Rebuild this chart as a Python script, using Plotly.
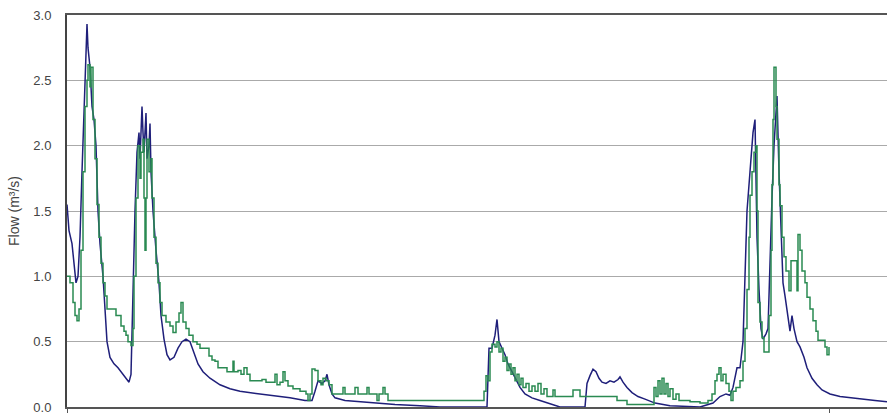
import plotly.graph_objects as go

# time index (hours from start of record) and flows (m3/s)
blue_t = [0, 2, 5, 7, 9, 11, 13, 15, 17, 19, 20, 21, 23, 25, 27, 29, 31, 33, 36, 38,
          40, 43, 47, 51, 55, 59, 62, 64, 65, 66, 68, 70, 72, 73, 75, 76, 77, 79, 80, 82,
          83, 84, 86, 89, 92, 94, 97, 100, 103, 107, 111, 115, 119, 123, 127, 131, 136, 143, 153, 163,
          173, 183, 193, 208, 223, 238, 245, 248, 251, 255, 258, 260, 262, 265, 268, 278, 293, 308, 328, 353,
          373, 420, 422, 425, 428, 430, 432, 435, 438, 441, 445, 449, 453, 458, 465, 473, 481, 493, 518, 520,
          523, 526, 529, 532, 535, 539, 543, 547, 551, 553, 556, 560, 565, 571, 578, 588, 603, 633, 646, 653,
          659, 663, 666, 670, 673, 676, 678, 680, 683, 685, 686, 688, 689, 690, 692, 694, 696, 699, 701, 703,
          705, 707, 709, 710, 712, 714, 716, 718, 720, 723, 725, 727, 730, 733, 737, 740, 745, 750, 755, 763,
          773, 783, 793, 808, 820]
blue_q = [1.55, 1.35, 1.25, 1.12, 0.95, 1.0, 1.3, 1.8, 2.2, 2.6, 2.93, 2.75, 2.6, 2.3, 2.2, 2.0, 1.5, 1.25, 1.0, 0.75,
          0.5, 0.38, 0.33, 0.3, 0.26, 0.22, 0.19, 0.25, 0.6, 1.0, 1.5, 1.95, 2.1, 1.9, 2.3, 2.1, 1.95, 2.25, 1.9, 2.0,
          2.17, 1.8, 1.5, 1.2, 0.95, 0.7, 0.52, 0.4, 0.36, 0.38, 0.45, 0.5, 0.52, 0.5, 0.42, 0.33, 0.27, 0.22, 0.17, 0.14,
          0.12, 0.11, 0.10, 0.09, 0.07, 0.05, 0.05, 0.12, 0.2, 0.18, 0.2, 0.25, 0.17, 0.1, 0.07, 0.05, 0.04, 0.03, 0.02, 0.01,
          0.0, 0.0, 0.45, 0.45, 0.55, 0.67, 0.5, 0.45, 0.4, 0.33, 0.27, 0.2, 0.15, 0.1, 0.07, 0.05, 0.03, 0.0, 0.0, 0.18,
          0.24, 0.29, 0.27, 0.22, 0.19, 0.18, 0.2, 0.19, 0.21, 0.23, 0.19, 0.15, 0.11, 0.08, 0.06, 0.03, 0.01, 0.0, 0.03, 0.08,
          0.1, 0.09, 0.15, 0.3, 0.3, 0.5, 1.0, 1.5, 1.8, 2.0, 2.1, 2.2, 1.8, 1.3, 0.9, 0.6, 0.52, 0.56, 0.6, 1.2,
          1.6, 2.0, 2.3, 2.38, 1.8, 1.3, 0.95, 0.85, 0.74, 0.58, 0.7, 0.6, 0.5, 0.46, 0.38, 0.3, 0.22, 0.17, 0.13, 0.1,
          0.08, 0.07, 0.06, 0.05, 0.04]

green_t = [0, 3, 6, 8, 10, 12, 14, 16, 18, 20, 21, 23, 24, 26, 28, 30, 32, 34, 36, 38,
           40, 45, 49, 52, 54, 57, 59, 61, 64, 66, 67, 69, 71, 73, 74, 76, 77, 78, 79, 80,
           82, 84, 85, 87, 89, 91, 93, 95, 99, 103, 106, 109, 112, 114, 116, 119, 122, 126, 130, 133,
           139, 142, 145, 148, 151, 157, 160, 164, 166, 167, 171, 174, 177, 180, 183, 191, 195, 199, 205, 208,
           210, 213, 216, 218, 221, 226, 233, 239, 241, 243, 245, 248, 251, 254, 256, 259, 262, 265, 275, 276,
           278, 287, 288, 291, 299, 300, 302, 309, 310, 312, 315, 316, 318, 321, 416, 417, 419, 421, 423, 425,
           428, 430, 432, 434, 436, 438, 440, 442, 444, 446, 448, 450, 452, 454, 456, 459, 462, 465, 468, 471,
           474, 477, 480, 485, 486, 488, 505, 506, 513, 550, 560, 585, 587, 589, 591, 593, 595, 597, 599, 601,
           603, 606, 609, 612, 623, 633, 641, 645, 648, 650, 652, 654, 656, 659, 662, 664, 666, 669, 673, 676,
           678, 680, 682, 683, 685, 687, 689, 690, 691, 693, 695, 697, 701, 702, 704, 705, 706, 707, 709, 710,
           712, 713, 715, 717, 719, 722, 724, 729, 730, 731, 733, 735, 738, 740, 743, 746, 749, 751, 755, 758,
           760, 762]
green_q = [1.0, 0.95, 0.8, 0.7, 0.66, 0.75, 1.2, 1.8, 2.3, 2.5, 2.62, 2.45, 2.6, 2.2, 1.9, 1.55, 1.3, 1.1, 0.95, 0.85,
           0.75, 0.75, 0.7, 0.7, 0.62, 0.58, 0.55, 0.5, 0.47, 0.6, 1.0, 1.6, 2.0, 1.75, 1.95, 2.05, 1.6, 1.2, 1.6, 2.05,
           1.8, 1.9, 1.6, 1.3, 1.1, 0.95, 0.8, 0.7, 0.65, 0.62, 0.57, 0.65, 0.72, 0.8, 0.65, 0.6, 0.55, 0.5, 0.48, 0.45,
           0.45, 0.39, 0.36, 0.35, 0.3, 0.3, 0.27, 0.27, 0.35, 0.27, 0.28, 0.25, 0.3, 0.25, 0.2, 0.2, 0.21, 0.19, 0.19, 0.25,
           0.17, 0.19, 0.27, 0.2, 0.16, 0.14, 0.12, 0.1, 0.05, 0.1, 0.29, 0.28, 0.2, 0.17, 0.22, 0.2, 0.17, 0.1, 0.1, 0.15,
           0.1, 0.1, 0.15, 0.1, 0.1, 0.15, 0.1, 0.1, 0.05, 0.1, 0.1, 0.15, 0.1, 0.05, 0.05, 0.12, 0.24, 0.2, 0.42, 0.48,
           0.46, 0.5, 0.42, 0.45, 0.35, 0.38, 0.28, 0.33, 0.25, 0.3, 0.2, 0.25, 0.17, 0.22, 0.15, 0.18, 0.12, 0.16, 0.12, 0.18,
           0.1, 0.14, 0.08, 0.08, 0.13, 0.08, 0.08, 0.13, 0.08, 0.05, 0.02, 0.02, 0.15, 0.08, 0.2, 0.1, 0.22, 0.1, 0.18, 0.08,
           0.14, 0.06, 0.1, 0.05, 0.04, 0.03, 0.05, 0.1, 0.2, 0.25, 0.3, 0.2, 0.25, 0.18, 0.12, 0.05, 0.12, 0.15, 0.2, 0.35,
           0.6, 0.9, 1.3, 1.62, 1.8, 1.95, 2.0, 1.5, 0.8, 0.65, 0.53, 0.42, 0.42, 0.7, 1.2, 1.7, 2.2, 2.6, 2.3, 2.05,
           1.7, 1.54, 1.3, 1.15, 1.04, 0.89, 1.12, 1.12, 0.89, 1.32, 1.2, 1.04, 0.95, 0.84, 0.75, 0.66, 0.58, 0.51, 0.51, 0.46,
           0.40, 0.46]

y_ticks = [0.0, 0.5, 1.0, 1.5, 2.0, 2.5, 3.0]
y_labels = ["0.0", "0.5", "1.0", "1.5", "2.0", "2.5", "3.0"]
x_ticks = [0, 762]

fig = go.Figure()
fig.add_trace(go.Scatter(x=blue_t, y=blue_q, mode="lines",
                         line=dict(color="#1f1f7a", width=1.5), showlegend=False))
fig.add_trace(go.Scatter(x=green_t, y=green_q, mode="lines",
                         line=dict(color="#2a8a52", width=1.5, shape="hv"), showlegend=False))

fig.update_layout(
    width=887, height=415,
    margin=dict(l=67, r=0, t=15, b=5),
    plot_bgcolor="white", paper_bgcolor="white",
    font=dict(family="Arial, Liberation Sans, sans-serif", size=13, color="#444"),
    xaxis=dict(range=[0, 820], showgrid=False, zeroline=False, showline=True,
               linecolor="#555", linewidth=1.5, mirror=True,
               tickvals=x_ticks, ticks="outside", ticklen=4, tickcolor="#555",
               showticklabels=False),
    yaxis=dict(range=[0, 3.0], tickvals=y_ticks, ticktext=y_labels,
               showgrid=True, gridcolor="#aaaaaa", gridwidth=1.2,
               zeroline=False, showline=True, linecolor="#444", linewidth=2,
               ticks="", ticklabelstandoff=11, ticklabeloverflow="allow",
               tickfont=dict(size=13, color="#444"),
               title=dict(text="Flow (m³/s)", font=dict(size=14, color="#444"), standoff=10)),
)

fig.write_html("out.html")
